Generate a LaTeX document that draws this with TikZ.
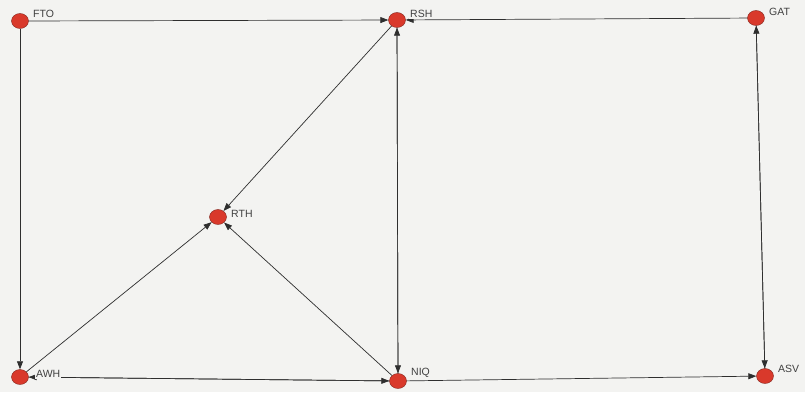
\documentclass[tikz,border=0pt]{standalone}
\usepackage{fontspec}
\setmainfont{Liberation Sans}
\usetikzlibrary{arrows.meta,shapes.geometric}
\definecolor{bg}{HTML}{F3F3F1}
\definecolor{nodered}{HTML}{D9392B}
\definecolor{edgecol}{HTML}{2E2E2E}
\begin{document}
\begin{tikzpicture}[x=1pt,y=-1pt,
  vtx/.style={ellipse,draw=nodered!60!black,fill=nodered,minimum width=17pt,minimum height=15pt,inner sep=0pt},
  lbl/.style={font=\fontsize{10.5}{10.5}\selectfont,text=black!75,fill=bg,inner sep=1pt,anchor=south west},
  edge/.style={draw=edgecol,line width=0.7pt,-{Triangle[length=8pt,width=6pt]}}]
\fill[bg] (0,0) rectangle (805,392);
\useasboundingbox (0,0) rectangle (805,392);
\node[vtx] (FTO) at (20,21) {};
\node[vtx] (RSH) at (397,20) {};
\node[vtx] (GAT) at (756,18) {};
\node[vtx] (RTH) at (218,217) {};
\node[vtx] (AWH) at (20,377) {};
\node[vtx] (NIQ) at (398,381) {};
\node[vtx] (ASV) at (765,376) {};
\path[edge] (FTO) -- (RSH);
\path[edge] (FTO) -- (AWH);
\path[edge] (RSH) -- (RTH);
\path[edge] (RSH) -- (NIQ);
\path[edge] (NIQ) -- (RSH);
\path[edge] (GAT) -- (ASV);
\path[edge] (ASV) -- (GAT);
\path[edge] (AWH) -- (RTH);
\path[edge] (NIQ) -- (RTH);
\path[edge] (AWH) -- (NIQ);
\path[edge] (NIQ) -- (AWH);
\path[edge] (NIQ) -- (ASV);
\path[edge] (GAT) -- (RSH);
\node[lbl] (lFTO) at (32,19) {FTO};
\node[lbl] (lRSH) at (409,19) {RSH};
\node[lbl] (lGAT) at (768,17) {GAT};
\node[lbl] (lRTH) at (230,219) {RTH};
\node[lbl] (lAWH) at (35,379) {AWH};
\node[lbl] (lNIQ) at (410,379) {NIQ};
\node[lbl] (lASV) at (777,374) {ASV};
\end{tikzpicture}
\end{document}
